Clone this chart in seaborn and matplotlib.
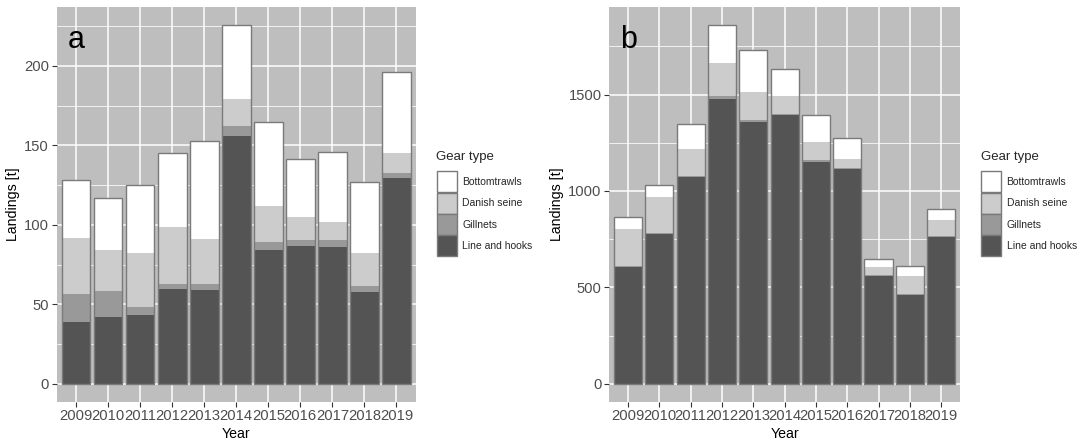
import numpy as np
import pandas as pd
import seaborn as sns
import matplotlib.pyplot as plt
from matplotlib.patches import Patch
from matplotlib.ticker import MultipleLocator

# Landings by gear type (cumulative stack, split into layers)
years = ['2009', '2010', '2011', '2012', '2013', '2014', '2015', '2016', '2017', '2018', '2019']
gears = ['Bottomtrawls', 'Danish seine', 'Gillnets', 'Line and hooks']

# panel a
a_lines = [39, 42, 43, 59.5, 59, 156, 84, 86.5, 86, 57.5, 129.5]
a_gill = [17.5, 16.5, 5.5, 3.5, 4, 6, 5, 4, 4.5, 4, 3]
a_danish = [35, 25.5, 33.5, 35.5, 28, 17, 23, 14.5, 11, 21, 12.5]
a_bottom = [36.5, 33, 43, 46.5, 61.5, 47, 52.5, 36.5, 44.5, 44.5, 51.5]

# panel b
b_lines = [606, 778, 1075, 1477, 1359, 1393, 1149, 1112, 561, 463, 763]
b_gill = [5, 5, 4, 16, 7, 7, 12, 7, 5, 4, 5]
b_danish = [190, 187, 138, 169, 146, 95, 94, 49, 42, 94, 79]
b_bottom = [63, 60, 132, 201, 219, 137, 138, 106, 40, 50, 62]

fills = ['#FFFFFF', '#CCCCCC', '#999999', '#545454']
edge = '#7A7A7A'

sns.set_style('darkgrid', {'axes.facecolor': '#BEBEBE', 'grid.color': 'white'})
plt.rcParams['font.family'] = ['Liberation Sans', 'DejaVu Sans']

fig = plt.figure(figsize=(10.84, 4.46), dpi=100)
W, H = 1084, 446
ax_a = fig.add_axes([56.7 / W, 1 - 401.7 / H, (415.7 - 56.7) / W, 395 / H])
ax_b = fig.add_axes([609.3 / W, 1 - 401.7 / H, (960 - 609.3) / W, 395 / H])


def stacked(ax, layers, major, letter):
    # layers ordered bottom -> top: lines, gill, danish, bottom
    cum = np.cumsum(np.array(layers), axis=0)
    for i in range(len(layers) - 1, -1, -1):
        col = fills[len(layers) - 1 - i]
        sns.barplot(x=years, y=cum[i], color=col, saturation=1, width=0.9,
                    linewidth=0, ax=ax, zorder=3)
    # outline around the whole stack
    sns.barplot(x=years, y=cum[-1], color=edge, fill=False, width=0.9,
                linewidth=1.0, ax=ax, zorder=4)
    top = cum[-1].max()
    ax.set_ylim(-0.05 * top, 1.05 * top)
    ax.set_xlim(-0.6, len(years) - 0.4)
    ax.yaxis.set_major_locator(MultipleLocator(major))
    ax.yaxis.set_minor_locator(MultipleLocator(major / 2))
    ax.grid(which='major', color='white', linewidth=1.1)
    ax.grid(which='minor', axis='y', color='white', linewidth=0.55)
    ax.set_axisbelow(True)
    for s in ax.spines.values():
        s.set_visible(False)
    ax.tick_params(axis='both', which='major', length=3.5, width=0.8,
                   color='#333333', labelcolor='#4D4D4D', labelsize=10.6, pad=2,
                   bottom=True, left=True)
    ax.tick_params(which='minor', length=0)
    ax.set_xlabel('Year', fontsize=10.2, color='black', labelpad=2.5)
    ax.set_ylabel('Landings [t]', fontsize=10.2, color='black', labelpad=3)
    ax.text(0.03, 0.895, letter, transform=ax.transAxes, fontsize=22,
            va='baseline', ha='left', color='black')


stacked(ax_a, [a_lines, a_gill, a_danish, a_bottom], 50, 'a')
stacked(ax_b, [b_lines, b_gill, b_danish, b_bottom], 500, 'b')

handles = [Patch(facecolor=c, edgecolor=edge, linewidth=1) for c in fills]
for x0 in (436.5 / W, 981 / W):
    leg = fig.legend(handles, gears, title='Gear type', loc='upper left',
                     bbox_to_anchor=(x0, 1 - 151 / H), frameon=False,
                     fontsize=7.5, title_fontsize=9.5, handlelength=1.95,
                     handleheight=2.72, labelspacing=0.03, handletextpad=0.5,
                     borderpad=0, borderaxespad=0, alignment='left')
    leg._legend_box.sep = 6  # gap between title and keys

fig.savefig('out.png', dpi=100)
